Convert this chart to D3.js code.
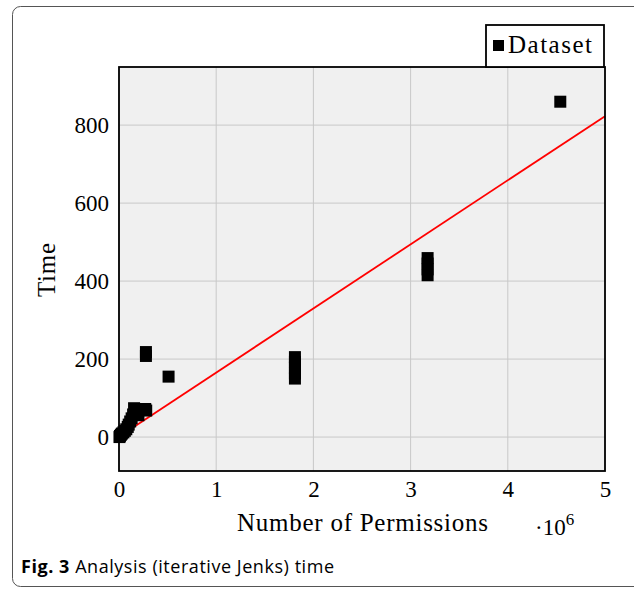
<!DOCTYPE html>
<html>
<head>
<meta charset="utf-8">
<script src="https://cdn.jsdelivr.net/npm/d3@7"></script>
<style>
  body { margin: 0; background: #fff; }
  svg { display: block; }
</style>
</head>
<body>
<svg id="chart" width="634" height="591"></svg>
<script>
// permissions (x, units of 1e6) and analysis time
const permissions = [
  0.005, 0.01, 0.02, 0.03, 0.045, 0.06, 0.075, 0.09, 0.1, 0.115,
  0.13, 0.145, 0.155, 0.17, 0.2, 0.27, 0.28,
  0.277, 0.277, 0.51,
  1.81, 1.81, 1.81, 1.81, 1.81,
  3.175, 3.175, 3.175, 3.175,
  4.54
];
const times = [
  0, 3, 6, 9, 12, 16, 20, 26, 32, 40,
  48, 58, 74, 68, 56, 72, 68,
  218, 208, 155,
  150, 163, 178, 193, 205,
  415, 430, 445, 459,
  860
];
// fitted trend line endpoints
const fitX = [0, 5];
const fitY = [1, 823];

const xTicks = [0, 1, 2, 3, 4, 5];
const yTicks = [0, 200, 400, 600, 800];

const svg = d3.select('#chart');
const serif = "'Liberation Serif', 'DejaVu Serif', serif";

const plot = { left: 119, top: 67, right: 605, bottom: 471 };

const x = d3.scaleLinear().domain([0, 5]).range([plot.left, plot.right]);
const y = d3.scaleLinear().domain([-87, 949]).range([plot.bottom, plot.top]);

// outer figure frame
svg.append('rect')
  .attr('x', 12.5).attr('y', 6.5)
  .attr('width', 650).attr('height', 580)
  .attr('rx', 8)
  .attr('fill', 'none')
  .attr('stroke', '#555')
  .attr('stroke-width', 1);

// plot background
svg.append('rect')
  .attr('x', plot.left).attr('y', plot.top)
  .attr('width', plot.right - plot.left)
  .attr('height', plot.bottom - plot.top)
  .attr('fill', '#f0f0f0');

// grid
const grid = svg.append('g').attr('class', 'grid');
grid.selectAll('line.gx').data(xTicks).enter().append('line')
  .attr('class', 'gx')
  .attr('x1', d => x(d)).attr('x2', d => x(d))
  .attr('y1', plot.top).attr('y2', plot.bottom)
  .attr('stroke', '#c8c8c8').attr('stroke-width', 1);
grid.selectAll('line.gy').data(yTicks).enter().append('line')
  .attr('class', 'gy')
  .attr('x1', plot.left).attr('x2', plot.right)
  .attr('y1', d => y(d)).attr('y2', d => y(d))
  .attr('stroke', '#c8c8c8').attr('stroke-width', 1);

// trend line
svg.append('line')
  .attr('x1', x(fitX[0])).attr('y1', y(fitY[0]))
  .attr('x2', x(fitX[1])).attr('y2', y(fitY[1]))
  .attr('stroke', '#ff0000')
  .attr('stroke-width', 1.8);

// markers
const sz = 12;
svg.append('g').attr('class', 'points')
  .selectAll('rect')
  .data(permissions.map((p, i) => ({ p, t: times[i] })))
  .enter().append('rect')
  .attr('x', d => x(d.p) - sz / 2)
  .attr('y', d => y(d.t) - sz / 2)
  .attr('width', sz).attr('height', sz)
  .attr('fill', '#000');

// axis frame
svg.append('rect')
  .attr('x', plot.left).attr('y', plot.top)
  .attr('width', plot.right - plot.left)
  .attr('height', plot.bottom - plot.top)
  .attr('fill', 'none')
  .attr('stroke', '#000')
  .attr('stroke-width', 1.8);

// tick labels
const xAxis = svg.append('g')
  .attr('transform', `translate(0, ${plot.bottom})`)
  .call(d3.axisBottom(x).tickValues(xTicks).tickSize(0).tickPadding(10).tickFormat(d3.format('d')));
xAxis.select('.domain').remove();
xAxis.selectAll('text')
  .attr('font-family', serif).attr('font-size', 23).attr('fill', '#000');

const yAxis = svg.append('g')
  .attr('transform', `translate(${plot.left}, 0)`)
  .call(d3.axisLeft(y).tickValues(yTicks).tickSize(0).tickPadding(10).tickFormat(d3.format('d')));
yAxis.select('.domain').remove();
yAxis.selectAll('text')
  .attr('font-family', serif).attr('font-size', 23).attr('fill', '#000');

// axis titles
svg.append('text')
  .attr('x', 237).attr('y', 531)
  .attr('font-family', serif).attr('font-size', 25)
  .attr('textLength', 251).attr('lengthAdjust', 'spacing')
  .text('Number of Permissions');

const sci = svg.append('text')
  .attr('x', 535).attr('y', 535)
  .attr('font-family', serif).attr('font-size', 23);
sci.append('tspan').text('·10');
sci.append('tspan').attr('dy', -10).attr('font-size', 17).text('6');

svg.append('text')
  .attr('transform', `translate(55, 243) rotate(-90)`)
  .attr('text-anchor', 'end')
  .attr('font-family', serif).attr('font-size', 25)
  .attr('textLength', 54).attr('lengthAdjust', 'spacing')
  .text('Time');

// legend
const legend = svg.append('g').attr('class', 'legend');
legend.append('rect')
  .attr('x', 486).attr('y', 25)
  .attr('width', 118).attr('height', 42)
  .attr('fill', '#fff')
  .attr('stroke', '#000').attr('stroke-width', 1.8);
legend.append('rect')
  .attr('x', 493).attr('y', 40)
  .attr('width', 11).attr('height', 11)
  .attr('fill', '#000');
legend.append('text')
  .attr('x', 508).attr('y', 53)
  .attr('font-family', serif).attr('font-size', 25)
  .attr('textLength', 84).attr('lengthAdjust', 'spacing')
  .text('Dataset');

// caption
const cap = svg.append('text')
  .attr('x', 21).attr('y', 573)
  .attr('font-family', "'Open Sans', 'Noto Sans', sans-serif")
  .attr('font-size', 18)
  .attr('textLength', 313).attr('lengthAdjust', 'spacing');
cap.append('tspan').attr('font-weight', 700).text('Fig. 3');
cap.append('tspan').text(' Analysis (iterative Jenks) time');
</script>
</body>
</html>
